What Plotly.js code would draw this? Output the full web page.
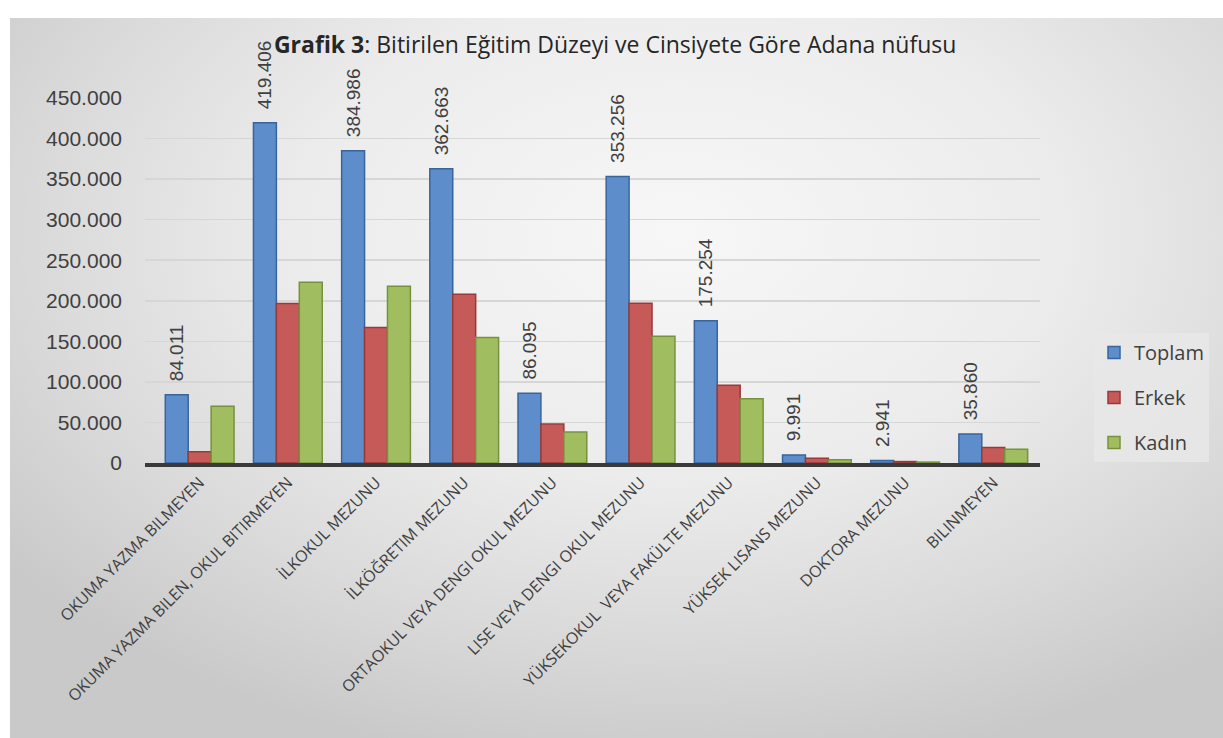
<!DOCTYPE html>
<html>
<head>
<meta charset="utf-8">
<script src="https://cdn.plot.ly/plotly-3.0.1.min.js"></script>
<style>
  html, body { margin: 0; padding: 0; background: #ffffff; }
  #bg { position: absolute; left: 10px; top: 18px; width: 1213px; height: 720px;
        background: radial-gradient(ellipse 70% 75% at 55% 30%, #f7f7f7 0%, #ececec 45%, #dadada 75%, #c9c9c9 100%); }
  #chart { position: absolute; left: 0; top: 0; width: 1223px; height: 738px; }
</style>
</head>
<body>
<div id="bg"></div>
<div id="chart"></div>
<script>
const categories = [
  "OKUMA YAZMA BILMEYEN",
  "OKUMA YAZMA BILEN, OKUL BITIRMEYEN",
  "İLKOKUL MEZUNU",
  "İLKÖĞRETIM MEZUNU",
  "ORTAOKUL VEYA DENGI OKUL MEZUNU",
  "LISE VEYA DENGI OKUL MEZUNU",
  "YÜKSEKOKUL  VEYA FAKÜLTE MEZUNU",
  "YÜKSEK LISANS MEZUNU",
  "DOKTORA MEZUNU",
  "BILINMEYEN"
];
const toplam = [84011, 419406, 384986, 362663, 86095, 353256, 175254, 9991, 2941, 35860];
const erkek  = [14000, 196500, 167000, 208000, 48000, 197000, 96000, 6000, 1800, 19000];
const kadin  = [70011, 222906, 217986, 154663, 38095, 156256, 79254, 3991, 1141, 16860];
const seriesNames = ["Toplam", "Erkek", "Kadın"];
const yTicks = [0, 50000, 100000, 150000, 200000, 250000, 300000, 350000, 400000, 450000];

const fills = ["#5d8dca", "#c65a58", "#a0be5f"];
const edges = ["#3a659c", "#963b39", "#77923f"];
const font = "Liberation Sans, Arial, sans-serif";
const font2 = "Open Sans, Noto Sans, sans-serif";

const data = [toplam, erkek, kadin].map((vals, i) => ({
  type: "bar",
  name: seriesNames[i],
  legendgroup: seriesNames[i],
  x: categories,
  y: vals,
  marker: { color: fills[i], line: { color: edges[i], width: 1.5 } },
  texttemplate: i === 0 ? "\u00a0\u00a0%{y:,}" : "",
  textposition: i === 0 ? "outside" : "none",
  textangle: -90,
  constraintext: "none",
  cliponaxis: false,
  textfont: { family: font, size: 19, color: "#404040" },
  hoverinfo: "x+y+name"
}));

const layout = {
  width: 1223, height: 738,
  paper_bgcolor: "rgba(0,0,0,0)",
  plot_bgcolor: "rgba(0,0,0,0)",
  separators: ",.",
  margin: { l: 145, r: 183, t: 98, b: 275 },
  barmode: "group",
  bargap: 0.22,
  bargroupgap: 0,
  title: {
    text: "<b>Grafik 3</b>: Bitirilen Eğitim Düzeyi ve Cinsiyete Göre Adana nüfusu",
    font: { family: font2, size: 23, color: "#262626" },
    xref: "container", yref: "container",
    x: 0.503, xanchor: "center", y: 1 - 45/738, yanchor: "middle"
  },
  xaxis: {
    type: "category",
    range: [-0.62, 9.53],
    tickangle: -45,
    tickfont: { family: font2, size: 16, color: "#404040" },
    showline: true, linecolor: "#3a3a3a", linewidth: 4,
    showgrid: false, ticks: "", zeroline: false
  },
  yaxis: {
    range: [0, 450000],
    tickvals: yTicks,
    tickformat: ",d",
    tickfont: { family: font, size: 21, color: "#404040" },
    showgrid: true, gridcolor: "#d6d6d6", gridwidth: 1.5,
    zeroline: false, showline: false, ticks: "",
    ticklabelstandoff: 22
  },
  legend: {
    xref: "container", yref: "container",
    x: 1094/1223, xanchor: "left",
    y: 1 - 333/738, yanchor: "top",
    bgcolor: "rgba(232,232,232,0.85)",
    font: { family: font2, size: 20, color: "#404040" },
    tracegroupgap: 16, itemwidth: 30,
    traceorder: "grouped"
  },
  showlegend: true
};

Plotly.newPlot("chart", data, layout, { displayModeBar: false, staticPlot: true });
</script>
</body>
</html>
